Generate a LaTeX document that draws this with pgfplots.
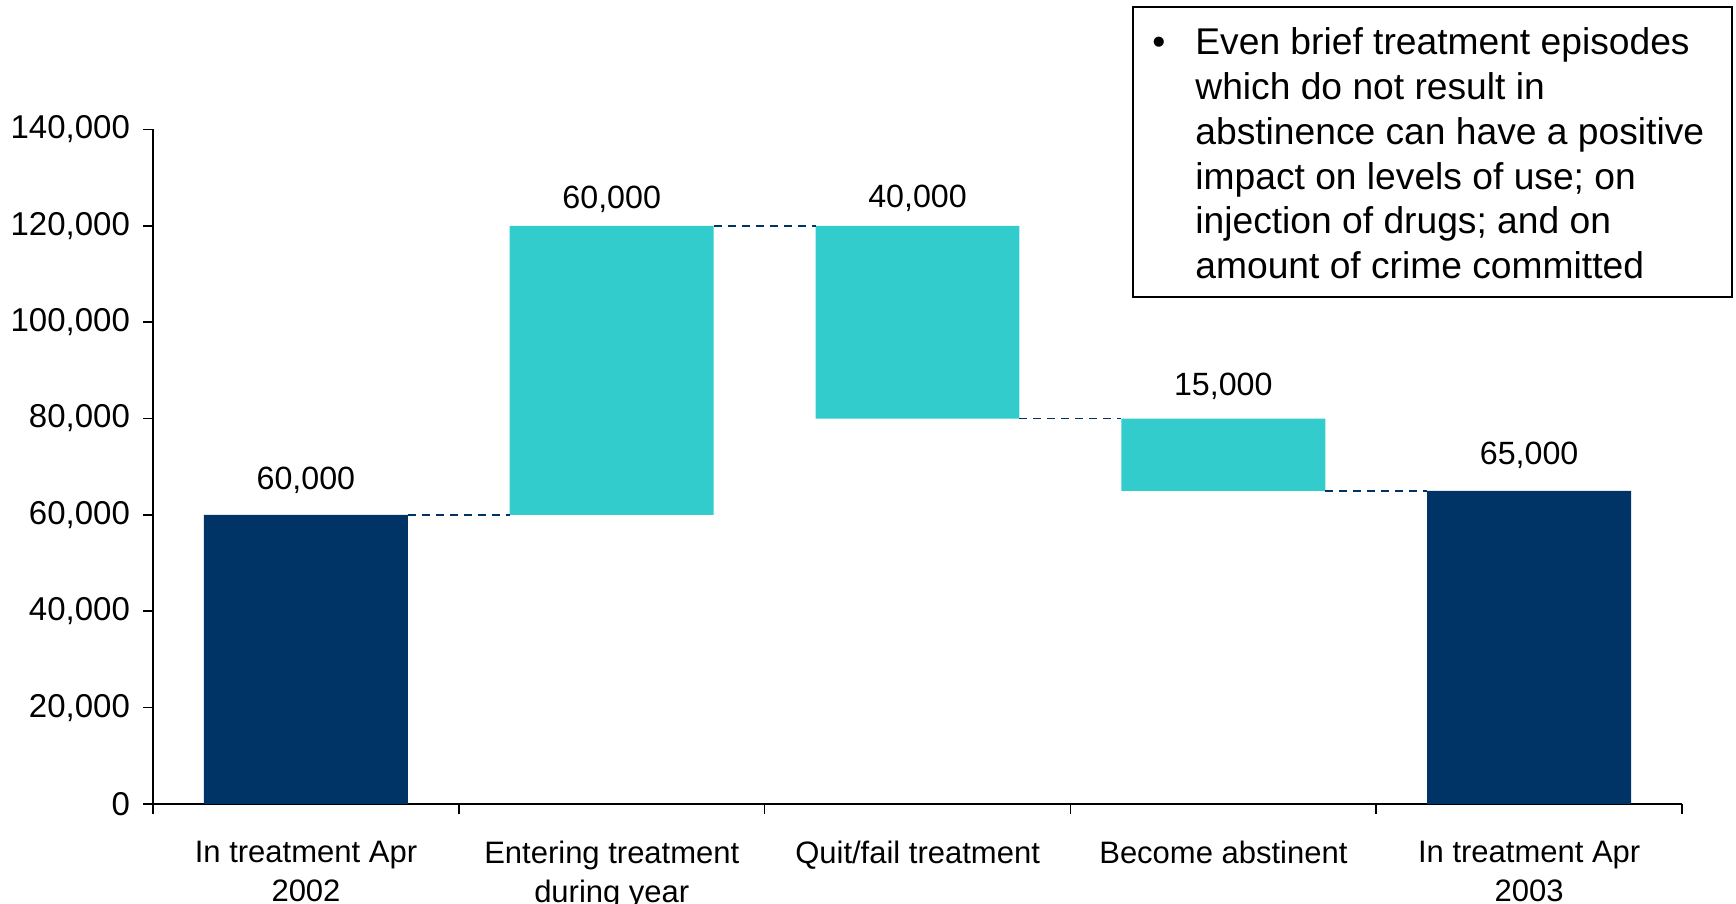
\documentclass[border=0pt]{standalone}
\usepackage{fontspec}
\setmainfont{Liberation Sans}
\usepackage{pgfplots}
\pgfplotsset{compat=1.18}
\definecolor{navy}{RGB}{0,51,102}
\definecolor{tealc}{RGB}{51,204,204}
\tikzset{vlab/.style={anchor=base, font=\fontsize{16.1}{20}\selectfont, inner sep=0pt},
  boxtxt/.style={anchor=base west, inner sep=0pt, font=\fontsize{18.6}{22.35}\selectfont}}
\pgfplotsset{
  myaxis/.style={
    scale only axis, width=764.5pt, height=337.25pt,
    xmin=-0.5, xmax=4.5, ymin=0, ymax=140000,
    at={(0pt,0pt)}, anchor=south west,
  }
}
\begin{document}
\begin{tikzpicture}
\begin{axis}[myaxis,
  ybar stacked, bar width=0.667,
  axis lines*=left,
  axis line style={line width=0.8pt, black},
  tick style={line width=0.8pt, black},
  tick align=outside, major tick length=5pt,
  xtick={-0.5,0.5,1.5,2.5,3.5,4.5},
  xticklabels={{In treatment Apr\\2002},{Entering treatment\\during year},{Quit/fail treatment},{Become abstinent},{In treatment Apr\\2003},{}},
  xticklabel style={xshift=76.5pt, yshift=-10pt, align=center, font=\fontsize{15.5}{19.5}\selectfont},
  ytick={0,20000,40000,60000,80000,100000,120000,140000},
  yticklabels={0,{20,000},{40,000},{60,000},{80,000},{100,000},{120,000},{140,000}},
  scaled y ticks=false,
  yticklabel style={font=\fontsize{16.5}{20}\selectfont, xshift=-3pt},
  clip=false,
]
\addplot[draw=none, fill=white, opacity=0] coordinates {(0,0) (1,60000) (2,80000) (3,65000) (4,0)};
\addplot[draw=none, fill=navy] coordinates {(0,60000) (1,0) (2,0) (3,0) (4,65000)};
\addplot[draw=none, fill=tealc] coordinates {(0,0) (1,60000) (2,40000) (3,15000) (4,0)};
\node[vlab] at (axis cs:0,65279) {60,000};
\node[vlab] at (axis cs:1,123499) {60,000};
\node[vlab] at (axis cs:2,123810) {40,000};
\node[vlab] at (axis cs:3,84685) {15,000};
\node[vlab] at (axis cs:4,70467) {65,000};
\end{axis}
\begin{axis}[myaxis, hide axis]
\addplot[navy, line width=0.8pt, dash pattern=on 4pt off 3pt] coordinates {(0.3335,60000) (0.6665,60000)};
\addplot[navy, line width=0.8pt, dash pattern=on 4pt off 3pt] coordinates {(1.3335,120000) (1.6665,120000)};
\addplot[navy, line width=0.8pt, dash pattern=on 4pt off 3pt] coordinates {(2.3335,80000) (2.6665,80000)};
\addplot[navy, line width=0.8pt, dash pattern=on 4pt off 3pt] coordinates {(3.3335,65000) (3.6665,65000)};
\end{axis}
\draw[line width=1pt] (490pt,253.25pt) rectangle (789.5pt,398.25pt);
\node[boxtxt, anchor=base] at (503pt,374.5pt) {•};
\node[boxtxt] at (521pt,374.5pt) {Even brief treatment episodes};
\node[boxtxt] at (521pt,352.15pt) {which do not result in};
\node[boxtxt] at (521pt,329.8pt) {abstinence can have a positive};
\node[boxtxt] at (521pt,307.45pt) {impact on levels of use; on};
\node[boxtxt] at (521pt,285.1pt) {injection of drugs; and on};
\node[boxtxt] at (521pt,262.75pt) {amount of crime committed};
\pgfresetboundingbox
\useasboundingbox (-76.5pt,-50pt) rectangle (791.5pt,402pt);
\end{tikzpicture}
\end{document}
